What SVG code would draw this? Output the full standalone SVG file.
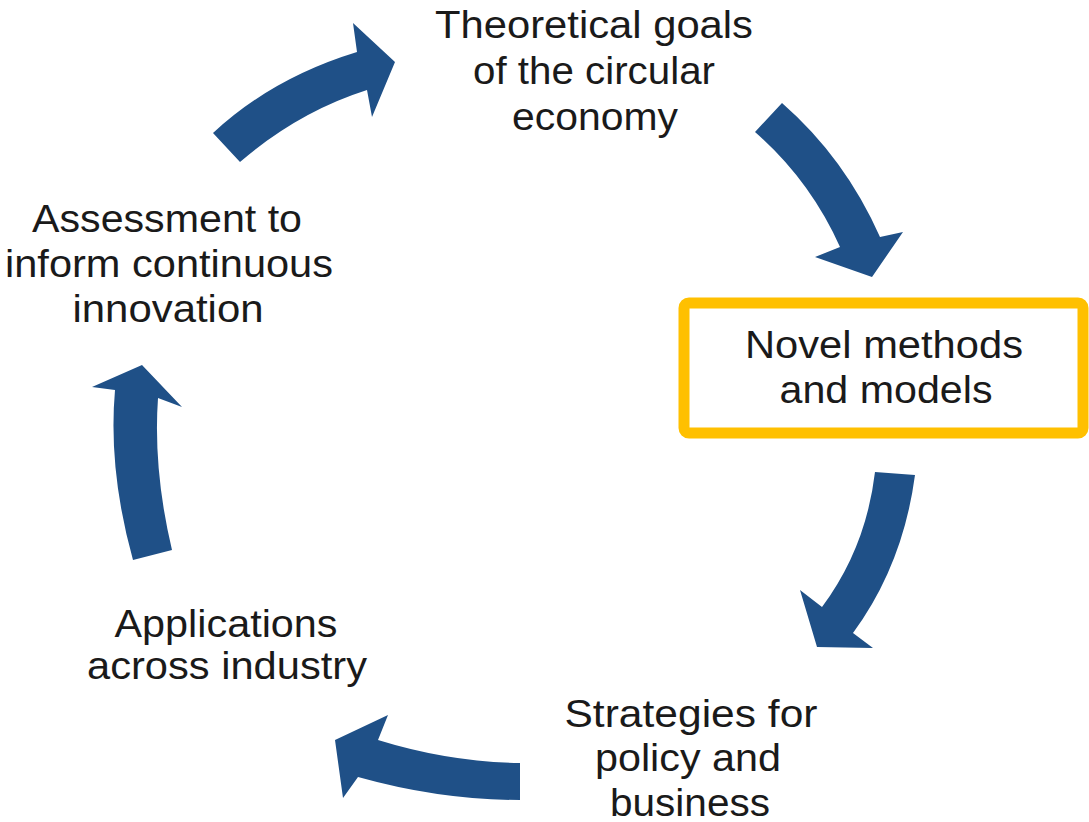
<svg xmlns="http://www.w3.org/2000/svg" width="1089" height="822" viewBox="0 0 1089 822">
  <style>
    .lbl { font-family: "Liberation Sans", Arial, sans-serif; font-size: 38px; fill: #1a1a1a; text-anchor: middle; }
    .arrow { fill: #1f5087; stroke: none; }
    .hl { fill: #ffffff; stroke: #ffc000; stroke-width: 11; }
  </style>
  <rect width="1089" height="822" fill="#ffffff"/>

  <g id="connectors">
    <path class="arrow" d="M213,133 Q272,78 357,52 L353,23 L395,62 L372,117 L367,90 Q298,112 240,162 Z"/>
    <path class="arrow" d="M782,103 Q845,158 880,237 L903,232 L872,277 L815,257 L840,247 Q810,180 755,132 Z"/>
    <path class="arrow" d="M875,472 Q866,548 822,607 L800,590 L817,647 L873,648 L853,633 Q903,565 915,475 Z"/>
    <path class="arrow" d="M520,763 Q449,762 378,740 L388,715 L335,740 L343,798 L358,777 Q440,800 520,800 Z"/>
    <path class="arrow" d="M133,560 Q108,470 115,390 L92,387 L142,365 L182,407 L158,398 Q153,470 172,550 Z"/>
  </g>

  <g id="node-theoretical">
    <text class="lbl" x="594" y="38" textLength="318" lengthAdjust="spacingAndGlyphs">Theoretical goals</text>
    <text class="lbl" x="594" y="84" textLength="242" lengthAdjust="spacingAndGlyphs">of the circular</text>
    <text class="lbl" x="595" y="130" textLength="166" lengthAdjust="spacingAndGlyphs">economy</text>
  </g>

  <g id="node-novel">
    <rect class="hl" x="684" y="303" width="399" height="130" rx="5"/>
    <text class="lbl" x="884" y="358" textLength="278" lengthAdjust="spacingAndGlyphs">Novel methods</text>
    <text class="lbl" x="886" y="403" textLength="213" lengthAdjust="spacingAndGlyphs">and models</text>
  </g>

  <g id="node-strategies">
    <text class="lbl" x="691" y="727" textLength="253" lengthAdjust="spacingAndGlyphs">Strategies for</text>
    <text class="lbl" x="688" y="771" textLength="186" lengthAdjust="spacingAndGlyphs">policy and</text>
    <text class="lbl" x="690" y="816" textLength="160" lengthAdjust="spacingAndGlyphs">business</text>
  </g>

  <g id="node-applications">
    <text class="lbl" x="226" y="637" textLength="223" lengthAdjust="spacingAndGlyphs">Applications</text>
    <text class="lbl" x="227" y="679" textLength="280" lengthAdjust="spacingAndGlyphs">across industry</text>
  </g>

  <g id="node-assessment">
    <text class="lbl" x="167" y="232" textLength="270" lengthAdjust="spacingAndGlyphs">Assessment to</text>
    <text class="lbl" x="169" y="277" textLength="328" lengthAdjust="spacingAndGlyphs">inform continuous</text>
    <text class="lbl" x="168" y="322" textLength="191" lengthAdjust="spacingAndGlyphs">innovation</text>
  </g>
</svg>
